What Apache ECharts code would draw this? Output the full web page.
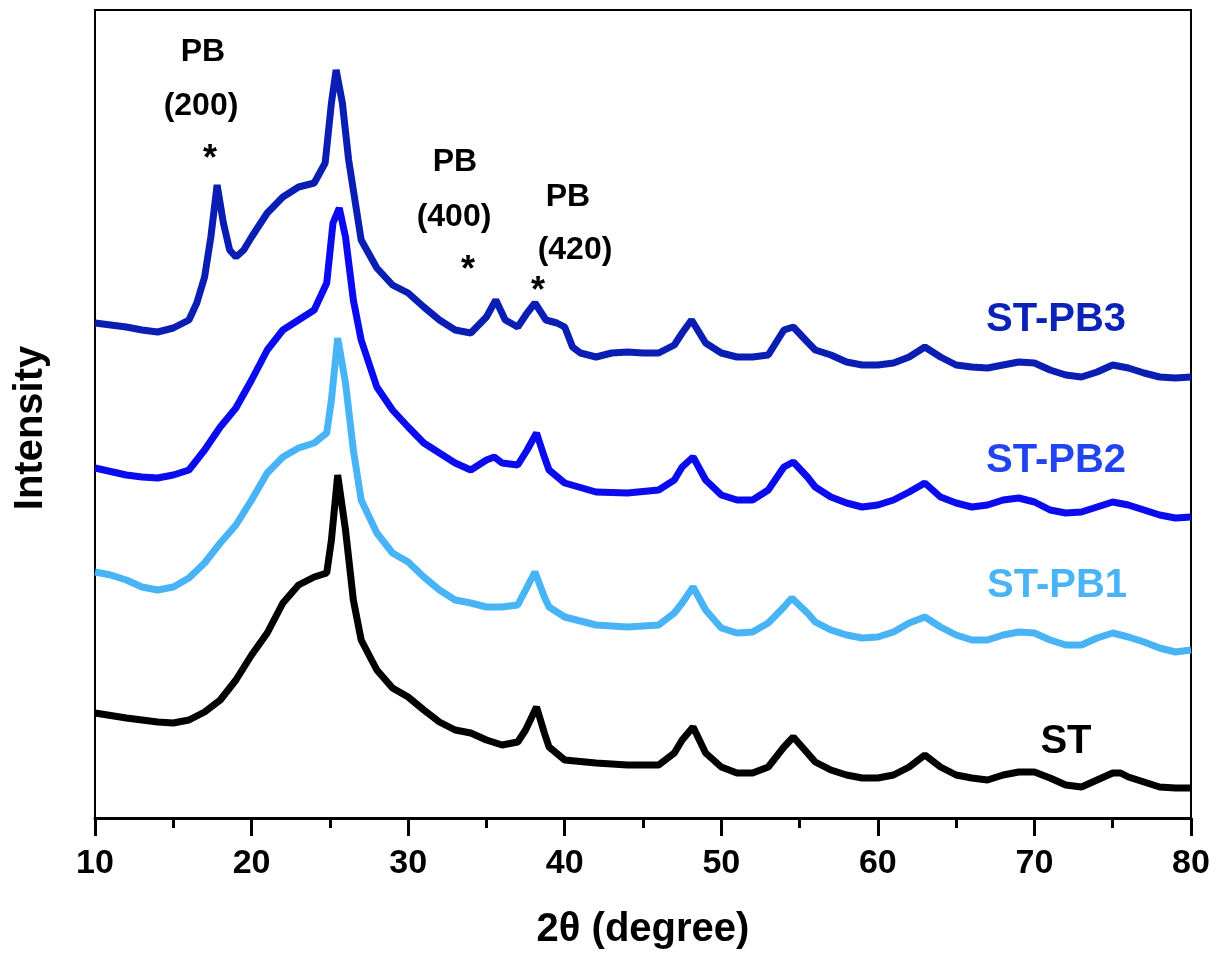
<!DOCTYPE html>
<html>
<head>
<meta charset="utf-8">
<script src="https://cdn.jsdelivr.net/npm/echarts@6/dist/echarts.min.js"></script>
<style>html,body{margin:0;padding:0;background:#fff;}#c{width:1216px;height:958px;}</style>
</head>
<body>
<div id="c"></div>
<script>
// 2theta positions and intensities (a.u., stacked offsets as in the figure)
const stX = [10,12,14,15,16,17,18,19,20,21,22,23,24,24.8,25.1,25.5,26,26.5,27,28,29,30,31,32,33,34,35,36,37,37.5,38.2,38.7,39,40,42,44,45,46,47,47.5,48.2,49,50,51,52,53,54,54.6,55.5,56,57,58,59,60,61,62,63,64,65,66,67,68,69,70,71,72,73,74,75,75.5,76,77,78,79,80];
const stY = [105,100,96,95,98,106,118,138,163,185,215,233,241,245,278,343,288,218,178,148,130,121,108,96,88,85,78,73,76,88,111,85,71,58,55,53,53,53,65,78,91,65,51,45,45,51,71,81,65,56,48,43,40,40,43,51,63,51,43,40,38,43,46,46,40,33,31,38,45,45,41,36,31,30,30];

const pb1X = [10,11,12,13,14,15,16,17,18,19,20,21,22,23,24,24.8,25.1,25.5,26,26.5,27,28,29,30,31,32,33,34,35,36,37,37.5,38.1,38.7,39,40,42,44,46,47,47.5,48.2,49,50,51,52,53,54,54.5,55.5,56,57,58,59,60,61,62,63,64,65,66,67,68,69,70,71,72,73,74,75,76,77,78,79,80];
const pb1Y = [246,243,238,231,228,231,240,255,275,293,318,345,361,370,375,385,418,480,435,368,318,285,265,256,241,228,218,215,211,211,213,228,246,221,211,201,193,191,193,205,215,231,208,190,185,186,195,211,220,205,196,188,183,180,181,186,195,201,191,183,178,178,183,186,185,178,173,173,180,185,181,176,170,166,168];

const pb2X = [10,12,13,14,15,16,17,18,19,20,21,22,23,24,24.8,25.2,25.6,26,26.5,27,28,29,30,31,32,33,34,35,35.5,36,37,37.6,38.2,38.7,39,40,42,44,46,47,47.5,48.2,49,50,51,52,53,54,54.6,55.5,56,57,58,59,60,61,62,63,64,65,66,67,68,69,70,71,72,73,74,75,76,77,78,79,80];
const pb2Y = [350,343,341,340,343,348,368,391,410,438,468,488,498,508,535,595,610,581,518,478,431,408,391,375,365,355,348,358,361,355,353,368,385,361,348,335,326,325,328,338,351,361,338,323,318,318,328,351,356,341,331,321,315,311,313,318,326,335,321,315,311,313,318,320,316,308,305,306,311,316,313,308,303,300,301];

const pb3X = [10,12,13,14,15,16,16.5,17,17.4,17.8,18.2,18.6,19,19.5,20,21,22,23,24,24.7,25.1,25.4,25.8,26.2,26.7,27,28,29,30,31,32,33,34,35,35.6,36.2,37,37.6,38.1,38.8,39.5,40,40.5,41,42,43,44,45,46,47,47.5,48.1,49,50,51,52,53,54,54.6,55.5,56,57,58,59,60,61,62,63,64,65,66,67,68,69,70,71,72,73,74,75,76,77,78,79,80];
const pb3Y = [495,491,488,486,490,498,515,541,581,633,595,568,561,568,581,605,621,631,635,655,715,748,715,658,608,578,550,533,525,511,498,488,485,501,518,498,491,505,515,498,495,491,471,465,461,465,466,465,465,473,485,498,475,465,461,461,463,488,491,476,468,463,456,453,453,455,461,471,461,453,451,450,453,456,455,448,443,441,446,453,450,445,441,440,441];

const seriesNames = ['ST','ST-PB1','ST-PB2','ST-PB3'];
const xTicks = [10,20,30,40,50,60,70,80];

function zip(xs, ys){ return xs.map((x,i)=>[x, ys[i]]); }

const chart = echarts.init(document.getElementById('c'), null, {renderer:'canvas'});
const FONT = '"Liberation Sans", Arial, sans-serif';
const colors = ['#000000','#48B4F6','#0B0BEF','#0A1EB4'];
const datas = [zip(stX,stY), zip(pb1X,pb1Y), zip(pb2X,pb2Y), zip(pb3X,pb3Y)];

function label(text, x, y, size, fill){
  return {type:'text', x:x, y:y, style:{text:text, font:'bold '+size+'px '+FONT, fill:fill, align:'center', verticalAlign:'middle'}};
}

const option = {
  backgroundColor:'#ffffff',
  animation:false,
  grid:{left:95,right:25,top:10,bottom:140,show:true,borderColor:'#000',borderWidth:2,backgroundColor:'transparent'},
  xAxis:{
    type:'value', min:10, max:80, interval:10,
    name:'2θ (degree)', nameLocation:'middle', nameGap:92,
    nameTextStyle:{fontFamily:FONT,fontWeight:'bold',fontSize:40,color:'#000'},
    axisLine:{show:true,lineStyle:{color:'#000',width:3}},
    axisTick:{show:true,inside:false,length:18,lineStyle:{color:'#000',width:3}},
    minorTick:{show:true,splitNumber:2,length:10,lineStyle:{color:'#000',width:3}},
    axisLabel:{fontFamily:FONT,fontWeight:'bold',fontSize:34,color:'#000',margin:29,
      formatter:function(v){return xTicks.indexOf(v)>=0?String(v):'';}},
    splitLine:{show:false}
  },
  yAxis:{
    type:'value', min:0, max:808,
    axisLine:{show:true,lineStyle:{color:'#000',width:2}},
    axisTick:{show:false}, axisLabel:{show:false}, splitLine:{show:false}
  },
  series: seriesNames.map((n,i)=>({
    name:n, type:'line', data:datas[i], showSymbol:false, symbol:'none',
    lineStyle:{color:colors[i],width:7}, z:2+i
  })),
  graphic: [
    {type:'text', x:31, y:428, rotation:Math.PI/2, style:{text:'Intensity', font:'bold 40px '+FONT, fill:'#000', align:'center', verticalAlign:'middle'}},
    label('ST-PB3',1056,320,40,'#0A22B8'),
    label('ST-PB2',1056,461,40,'#2244F0'),
    label('ST-PB1',1057,586,40,'#48B4F6'),
    label('ST',1066,742,40,'#000'),
    label('PB',203,52,32,'#000'),
    label('(200)',201,106,32,'#000'),
    label('*',210,160,36,'#000'),
    label('PB',455,162,32,'#000'),
    label('(400)',454,217,32,'#000'),
    label('*',468,271,36,'#000'),
    label('PB',568,197,32,'#000'),
    label('(420)',575,250,32,'#000'),
    label('*',538,292,36,'#000')
  ]
};
chart.setOption(option);
</script>
</body>
</html>
